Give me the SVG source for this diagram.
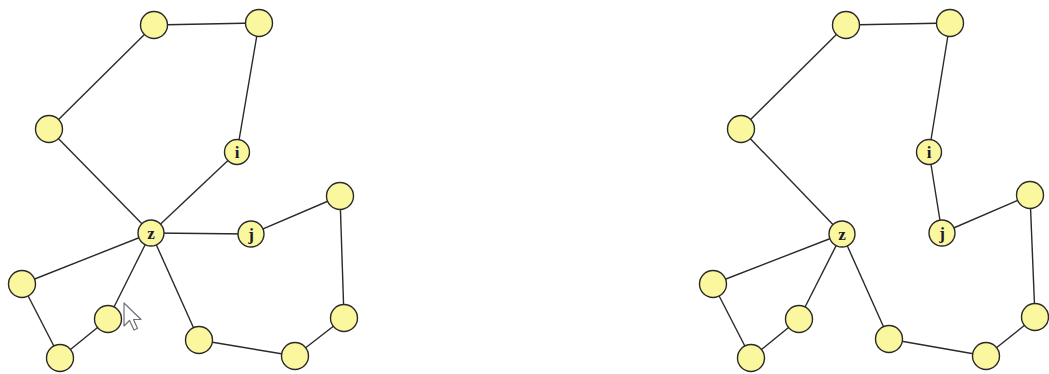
<svg xmlns="http://www.w3.org/2000/svg" width="1049" height="374" viewBox="0 0 1049 374">
<style>
.n{fill:#fbf79e;stroke:#2a2a2a;stroke-width:1.4}
.e{stroke:#2a2a2a;stroke-width:1.4;fill:none}
.t{font-family:"Liberation Serif",serif;font-size:17px;font-weight:bold;fill:#1a1a2a;text-anchor:middle}
</style>
<rect width="1049" height="374" fill="#ffffff"/>
<g id="connectors">
<!-- left graph -->
<line class="e" x1="154" y1="25" x2="259" y2="23"/>
<line class="e" x1="259" y1="23" x2="237" y2="152"/>
<line class="e" x1="237" y1="152" x2="151" y2="233"/>
<line class="e" x1="154" y1="25" x2="49" y2="129"/>
<line class="e" x1="49" y1="129" x2="151" y2="233"/>
<line class="e" x1="151" y1="233" x2="251" y2="234"/>
<line class="e" x1="251" y1="234" x2="340" y2="196"/>
<line class="e" x1="340" y1="196" x2="344" y2="318"/>
<line class="e" x1="344" y1="318" x2="295" y2="356"/>
<line class="e" x1="295" y1="356" x2="199" y2="340"/>
<line class="e" x1="199" y1="340" x2="151" y2="233"/>
<line class="e" x1="151" y1="233" x2="108" y2="319"/>
<line class="e" x1="108" y1="319" x2="60" y2="358"/>
<line class="e" x1="60" y1="358" x2="22" y2="284"/>
<line class="e" x1="22" y1="284" x2="151" y2="233"/>
<!-- right graph -->
<line class="e" x1="846" y1="25" x2="950" y2="23"/>
<line class="e" x1="950" y1="23" x2="929" y2="152"/>
<line class="e" x1="929" y1="152" x2="942" y2="233"/>
<line class="e" x1="846" y1="25" x2="741" y2="129"/>
<line class="e" x1="741" y1="129" x2="842" y2="234"/>
<line class="e" x1="842" y1="234" x2="713" y2="284"/>
<line class="e" x1="842" y1="234" x2="799" y2="319"/>
<line class="e" x1="799" y1="319" x2="751" y2="358"/>
<line class="e" x1="751" y1="358" x2="713" y2="284"/>
<line class="e" x1="842" y1="234" x2="889" y2="339"/>
<line class="e" x1="889" y1="339" x2="986" y2="356"/>
<line class="e" x1="986" y1="356" x2="1035" y2="317"/>
<line class="e" x1="1035" y1="317" x2="1030" y2="195"/>
<line class="e" x1="1030" y1="195" x2="942" y2="233"/>
</g>
<!-- left graph nodes -->
<g id="L-a"><circle class="n" cx="154" cy="25" r="13.5"/></g>
<g id="L-b"><circle class="n" cx="259" cy="23" r="13.5"/></g>
<g id="L-c"><circle class="n" cx="49" cy="129" r="13.5"/></g>
<g id="L-i"><circle class="n" cx="237" cy="152" r="12.5"/><text class="t" x="237" y="158">i</text></g>
<g id="L-z"><circle class="n" cx="151" cy="233" r="13"/><text class="t" x="151" y="239">z</text></g>
<g id="L-j"><circle class="n" cx="251" cy="234" r="13"/><text class="t" x="251" y="240">j</text></g>
<g id="L-d"><circle class="n" cx="340" cy="196" r="13.5"/></g>
<g id="L-e"><circle class="n" cx="22" cy="284" r="13.5"/></g>
<g id="L-f"><circle class="n" cx="108" cy="319" r="13.5"/></g>
<g id="L-g"><circle class="n" cx="60" cy="358" r="13.5"/></g>
<g id="L-h"><circle class="n" cx="199" cy="340" r="13.5"/></g>
<g id="L-k"><circle class="n" cx="295" cy="356" r="13.5"/></g>
<g id="L-l"><circle class="n" cx="344" cy="318" r="13.5"/></g>
<!-- right graph nodes -->
<g id="R-a"><circle class="n" cx="846" cy="25" r="13.5"/></g>
<g id="R-b"><circle class="n" cx="950" cy="23" r="13.5"/></g>
<g id="R-c"><circle class="n" cx="741" cy="129" r="13.5"/></g>
<g id="R-i"><circle class="n" cx="929" cy="152" r="12.5"/><text class="t" x="929" y="158">i</text></g>
<g id="R-z"><circle class="n" cx="842" cy="234" r="13"/><text class="t" x="842" y="240">z</text></g>
<g id="R-j"><circle class="n" cx="942" cy="233" r="13"/><text class="t" x="942" y="239">j</text></g>
<g id="R-d"><circle class="n" cx="1030" cy="195" r="13.5"/></g>
<g id="R-e"><circle class="n" cx="713" cy="284" r="13.5"/></g>
<g id="R-f"><circle class="n" cx="799" cy="319" r="13.5"/></g>
<g id="R-g"><circle class="n" cx="751" cy="358" r="13.5"/></g>
<g id="R-h"><circle class="n" cx="889" cy="339" r="13.5"/></g>
<g id="R-k"><circle class="n" cx="986" cy="356" r="13.5"/></g>
<g id="R-l"><circle class="n" cx="1035" cy="317" r="13.5"/></g>
<!-- mouse cursor -->
<path d="M124,303 L124,326 L129.5,320.5 L134,330 L137.5,328.5 L133.5,319.5 L141,319.5 Z" fill="#ffffff" stroke="#70707a" stroke-width="1.2" stroke-linejoin="round"/>
</svg>
